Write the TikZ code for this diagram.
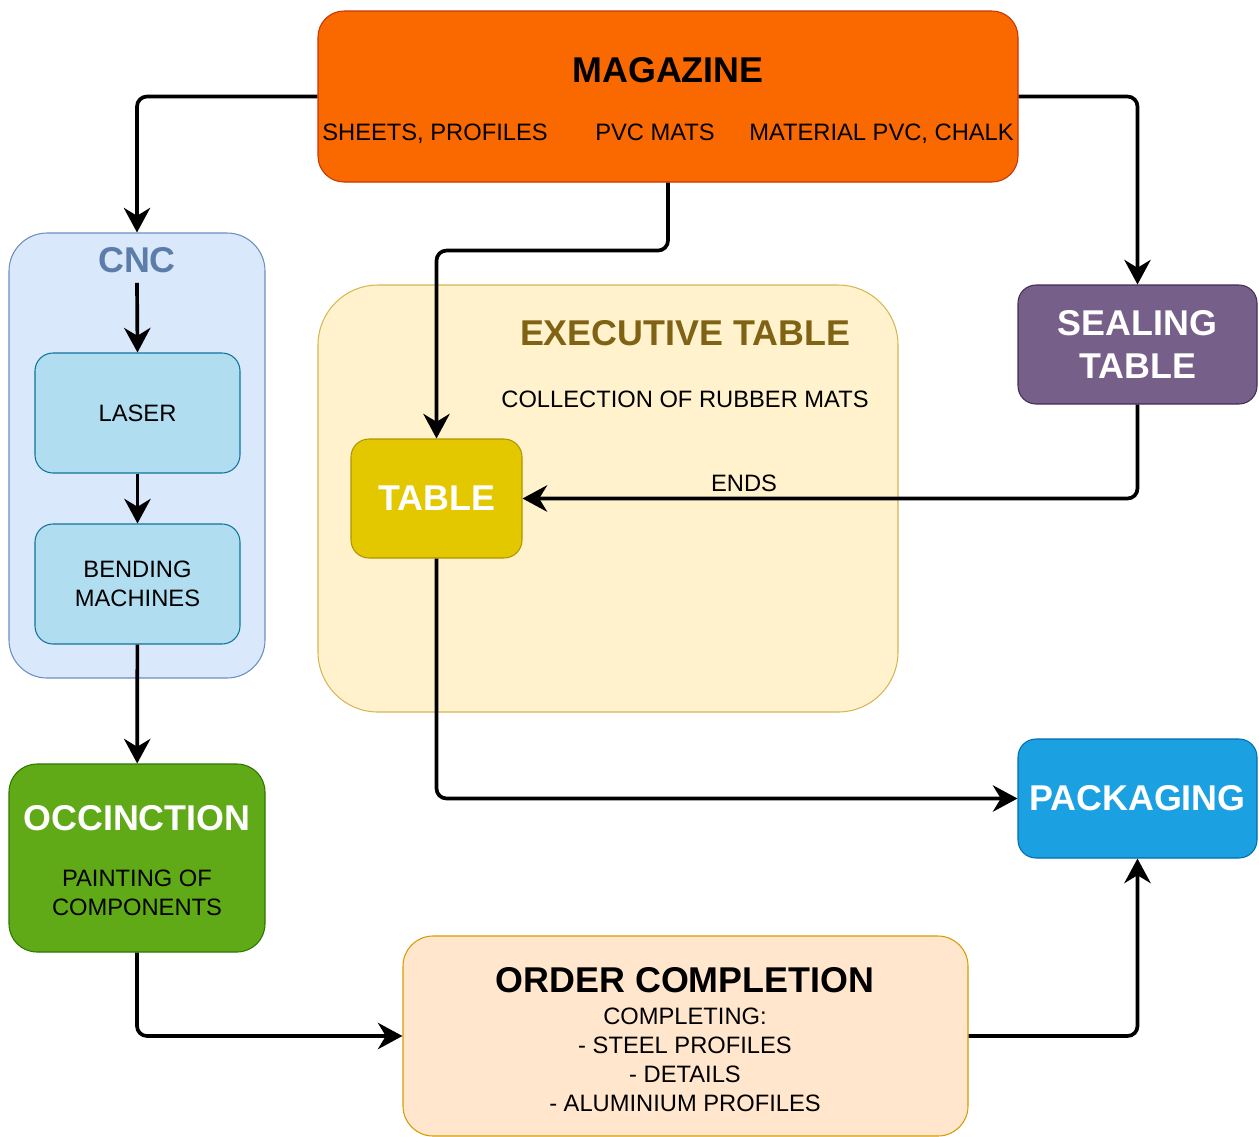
\documentclass[tikz,border=0pt]{standalone}
\usepackage{fontspec}
\setmainfont{Liberation Sans}
\usetikzlibrary{arrows.meta}
\newcommand{\pxunit}{0.02cm}
\newcommand{\bigfont}{\fontsize{20.4}{24}\selectfont\bfseries}
\newcommand{\smallfont}{\fontsize{13.5}{16.4}\selectfont}
\definecolor{magFill}{HTML}{FA6800}
\definecolor{magLine}{HTML}{C73500}
\definecolor{cncFill}{HTML}{DAE8FC}
\definecolor{cncLine}{HTML}{6C8EBF}
\definecolor{cncText}{HTML}{5C7DAA}
\definecolor{lasFill}{HTML}{B1DDF0}
\definecolor{lasLine}{HTML}{10739E}
\definecolor{exeFill}{HTML}{FFF2CC}
\definecolor{exeLine}{HTML}{D6B656}
\definecolor{exeText}{HTML}{7F6214}
\definecolor{tabFill}{HTML}{E3C800}
\definecolor{tabLine}{HTML}{B09500}
\definecolor{seaFill}{HTML}{76608A}
\definecolor{seaLine}{HTML}{432D57}
\definecolor{pacFill}{HTML}{1BA1E2}
\definecolor{pacLine}{HTML}{006EAF}
\definecolor{occFill}{HTML}{60A917}
\definecolor{occLine}{HTML}{2D7600}
\definecolor{ordFill}{HTML}{FFE6CC}
\definecolor{ordLine}{HTML}{D79B00}

\begin{document}
\begin{tikzpicture}[x=\pxunit, y=-\pxunit]
  \tikzset{blk/.style 2 args={draw, inner sep=0pt, line width=0.6pt,
             minimum width=#1*\pxunit, minimum height=#2*\pxunit, align=center},
           head/.style={font=\bigfont, inner sep=0pt, text depth=0pt},
           sub/.style={font=\smallfont, align=center, inner sep=0pt},
           arr/.style={-{Stealth[length=14pt,width=15pt,inset=4.5pt]},
             line width=2.1pt, rounded corners=10*\pxunit}}
  \useasboundingbox (0,0) rectangle (1259,1137);

  \node[blk={700}{171}, fill=magFill, draw=magLine, rounded corners=26*\pxunit] (mag) at (668,96.5) {};
  \node[head] (magT) at (668,70) {MAGAZINE};
  \node[sub, text depth=0pt] (magA) at (435,132) {SHEETS, PROFILES};
  \node[sub, text depth=0pt] (magB) at (655,132) {PVC MATS};
  \node[sub, text depth=0pt] (magC) at (881.5,132) {MATERIAL PVC, CHALK};

  \node[blk={256}{445}, fill=cncFill, draw=cncLine, rounded corners=38*\pxunit] (cnc) at (137,455.5) {};
  \node[head, text=cncText] (cncT) at (137,260) {CNC};
  \node[blk={205}{120}, fill=lasFill, draw=lasLine, rounded corners=18*\pxunit, font=\smallfont] (laser) at (137.5,413) {LASER};
  \node[blk={205}{120}, fill=lasFill, draw=lasLine, rounded corners=18*\pxunit, font=\smallfont] (bend) at (137.5,584) {BENDING\\MACHINES};

  \node[blk={580}{427}, fill=exeFill, draw=exeLine, rounded corners=60*\pxunit] (exec) at (608,498.5) {};
  \node[head, text=exeText] (execT) at (685,333) {EXECUTIVE TABLE};
  \node[sub] (execS) at (685,399) {COLLECTION OF RUBBER MATS};
  \node[blk={171}{119}, fill=tabFill, draw=tabLine, rounded corners=18*\pxunit, font=\bigfont, text=white] (tbl) at (436.5,498.5) {TABLE};

  \node[blk={239}{119}, fill=seaFill, draw=seaLine, rounded corners=18*\pxunit, font=\bigfont, text=white] (seal) at (1137.5,344.5) {SEALING\\TABLE};
  \node[blk={239}{119}, fill=pacFill, draw=pacLine, rounded corners=18*\pxunit, font=\bigfont, text=white] (pack) at (1137.5,798.5) {PACKAGING};

  \node[blk={256}{188}, fill=occFill, draw=occLine, rounded corners=28*\pxunit] (occ) at (137,858) {};
  \node[head, text=white] (occT) at (137,818) {OCCINCTION};
  \node[sub] (occS) at (137,892.5) {PAINTING OF\\COMPONENTS};

  \node[blk={565}{200}, fill=ordFill, draw=ordLine, rounded corners=30*\pxunit] (order) at (685.5,1036) {};
  \node[head] (orderT) at (685,980) {ORDER COMPLETION};
  \node[sub] (orderS) at (685,1060) {COMPLETING:\\- STEEL PROFILES\\- DETAILS\\- ALUMINIUM PROFILES};

  \node[sub] (ends) at (744,483) {ENDS};

  \draw[arr] (mag.west) -| (cnc.north);
  \draw[arr] (mag.south) -- ++(0,68) -| (tbl.north);
  \draw[arr] (mag.east) -| (seal.north);
  \draw[arr] (seal.south) |- (tbl.east);
  \draw[arr] ([yshift=-10*\pxunit]cncT.south) -- (laser.north);
  \draw[arr] (laser) -- (bend);
  \draw[arr] (bend) -- (occ);
  \draw[arr] (tbl.south) |- (pack.west);
  \draw[arr] (occ.south) |- (order.west);
  \draw[arr] (order.east) -| (pack.south);
\end{tikzpicture}
\end{document}
